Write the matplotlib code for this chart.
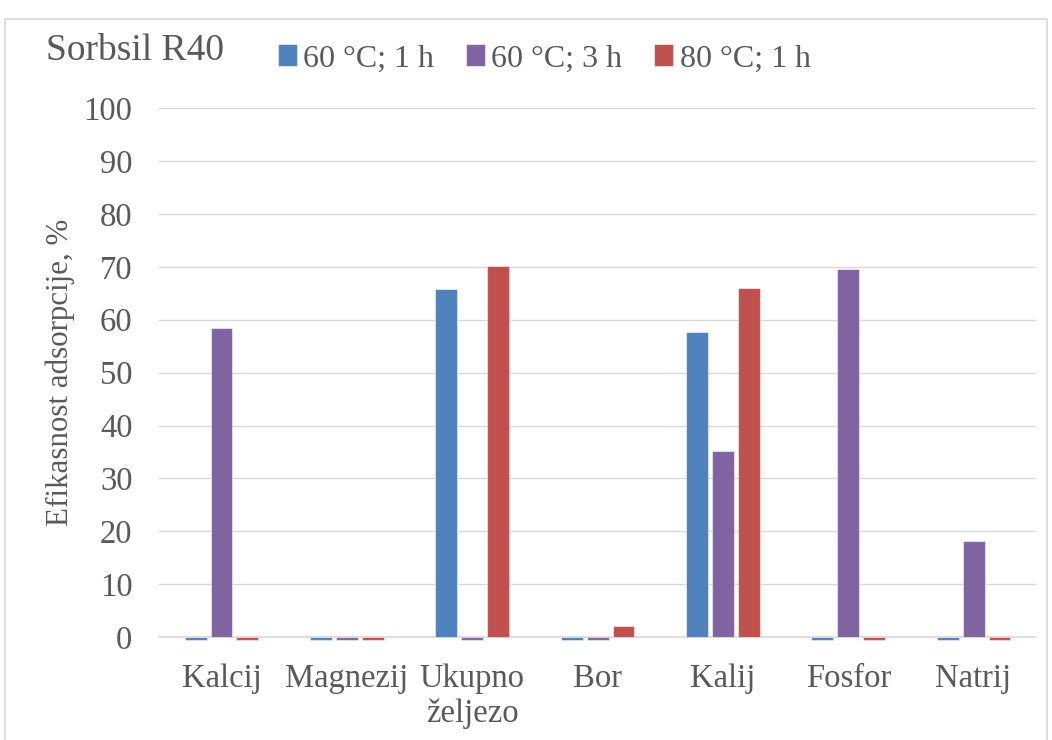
import numpy as np
import matplotlib.pyplot as plt
from matplotlib.patches import Rectangle

categories = ["Kalcij", "Magnezij", "Ukupno\nželjezo", "Bor", "Kalij", "Fosfor", "Natrij"]
series_names = ["60 °C; 1 h", "60 °C; 3 h", "80 °C; 1 h"]
s60_1h = [-0.6, -0.6, 65.8, -0.6, 57.7, -0.6, -0.6]
s60_3h = [58.5, -0.6, -0.6, -0.6, 35.1, 69.5, 18.1]
s80_1h = [-0.6, -0.6, 70.2, 2.1, 65.9, -0.6, -0.6]
colors = ["#4F81BD", "#8064A2", "#C0504D"]

plt.rcParams['font.family'] = ['Liberation Serif', 'DejaVu Serif']
text_col = "#595959"

fig = plt.figure(figsize=(10.52, 7.40), dpi=100)
ax = fig.add_axes([0.151, 0.139, 0.834, 0.715])

# outer chart border
fig.patches.append(Rectangle((0.005, -0.01), 0.99, 0.985, transform=fig.transFigure,
                             fill=False, edgecolor="#D9D9D9", linewidth=1.2))

x = np.arange(len(categories))
offset = 0.207
width = 0.175
for i, (vals, name) in enumerate(zip([s60_1h, s60_3h, s80_1h], series_names)):
    ax.bar(x + (i - 1) * offset, vals, width, color=colors[i], label=name,
           edgecolor="#FFFFFF80", linewidth=0.8, clip_on=False, zorder=3)

ax.set_xlim(-0.5, len(categories) - 0.5)
ax.set_ylim(0, 100)
ax.set_yticks(range(0, 101, 10))
ax.yaxis.grid(True, color="#D9D9D9", linewidth=1)
ax.set_axisbelow(True)
for s in ["top", "right", "left"]:
    ax.spines[s].set_visible(False)
ax.spines["bottom"].set_color("#D9D9D9")
ax.spines["bottom"].set_linewidth(1.2)
ax.spines["bottom"].set_zorder(2)
ax.set_xticks(x)
ax.set_xticklabels(categories, linespacing=1.2)
ax.tick_params(axis="both", length=0, labelsize=23.5, colors=text_col)
ax.tick_params(axis="x", pad=19)
ax.tick_params(axis="y", pad=19)
ax.set_ylabel("Efikasnost adsorpcije, %", fontsize=22.3, color=text_col, labelpad=6)

fig.text(0.044, 0.932, "Sorbsil R40", fontsize=27, color=text_col, va="center")
ax.legend(loc="center left", bbox_to_anchor=(0.121, 1.093), ncol=3, frameon=False,
          fontsize=23, labelcolor=text_col, handlelength=0.59, handleheight=0.68,
          handletextpad=0.2, columnspacing=1.0, borderaxespad=0)

fig.savefig("out.png", dpi=100)
